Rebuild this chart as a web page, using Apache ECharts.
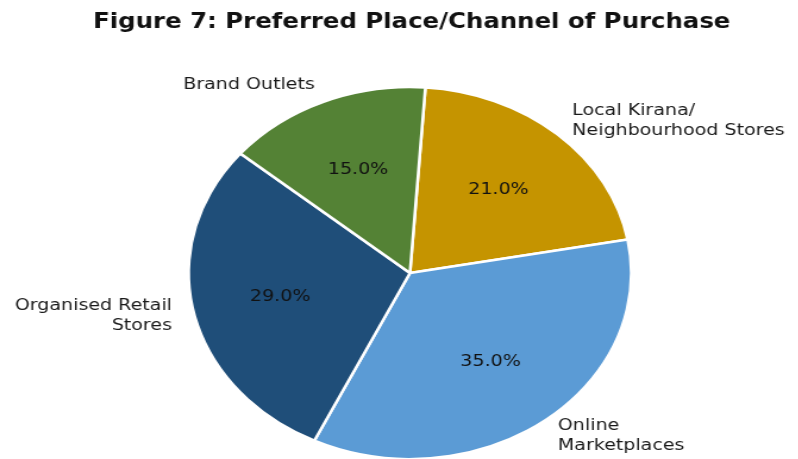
<!DOCTYPE html>
<html>
<head>
<meta charset="utf-8">
<script src="https://cdn.jsdelivr.net/npm/echarts@6/dist/echarts.min.js"></script>
<style>
  html, body { margin: 0; padding: 0; background: #ffffff; overflow: hidden; width: 798px; height: 459px; }
  /* the figure is drawn on a narrower canvas and stretched horizontally */
  #chart { width: 692px; height: 459px; transform: scaleX(1.19); transform-origin: 0 0; }
</style>
</head>
<body>
<div id="chart"></div>
<script>
const categories = ['Local Kirana/\nNeighbourhood Stores', 'Online\nMarketplaces', 'Organised Retail\nStores', 'Brand Outlets'];
const shares = [21, 35, 29, 15];
const sliceColors = ['#C59400', '#5B9BD5', '#1F4E79', '#548235'];

const R = 186;
const CX = 344.5, CY = 273;
const FONT = 'DejaVu Sans';

const sliceData = categories.map((name, i) => ({
  name: name,
  value: shares[i],
  itemStyle: { color: sliceColors[i] }
}));

const labelData = categories.map((name, i) => ({
  name: name,
  value: shares[i]
}));

const chart = echarts.init(document.getElementById('chart'), null, { renderer: 'canvas' });
chart.setOption({
  backgroundColor: '#ffffff',
  animation: false,
  title: {
    text: 'Figure 7: Preferred Place/Channel of Purchase',
    left: 'center',
    top: 7,
    textStyle: { fontFamily: FONT, fontWeight: 'bold', fontSize: 20.5, color: '#111111' }
  },
  series: [
    {
      type: 'pie',
      center: [CX, CY],
      radius: R,
      startAngle: 86,
      clockwise: true,
      avoidLabelOverlap: false,
      silent: true,
      itemStyle: { borderColor: '#ffffff', borderWidth: 2.5 },
      label: {
        show: true,
        position: 'outside',
        alignTo: 'none',
        distanceToLabelLine: 0,
        formatter: p => p.name,
        fontFamily: FONT,
        fontSize: 16,
        lineHeight: 20,
        color: '#1a1a1a'
      },
      labelLine: { show: false, length: R * 0.1, length2: 0 },
      data: sliceData
    },
    {
      // transparent ring carrying the percentage labels at 0.6 R
      type: 'pie',
      center: [CX, CY],
      radius: (R * 0.6 - 3) * 2,
      startAngle: 86,
      clockwise: true,
      silent: true,
      itemStyle: { color: 'rgba(0,0,0,0)', borderWidth: 0 },
      label: {
        show: true,
        position: 'inside',
        formatter: p => p.value.toFixed(1) + '%',
        fontFamily: FONT,
        fontSize: 16,
        color: '#111111'
      },
      labelLine: { show: false },
      data: labelData
    }
  ]
});
</script>
</body>
</html>
